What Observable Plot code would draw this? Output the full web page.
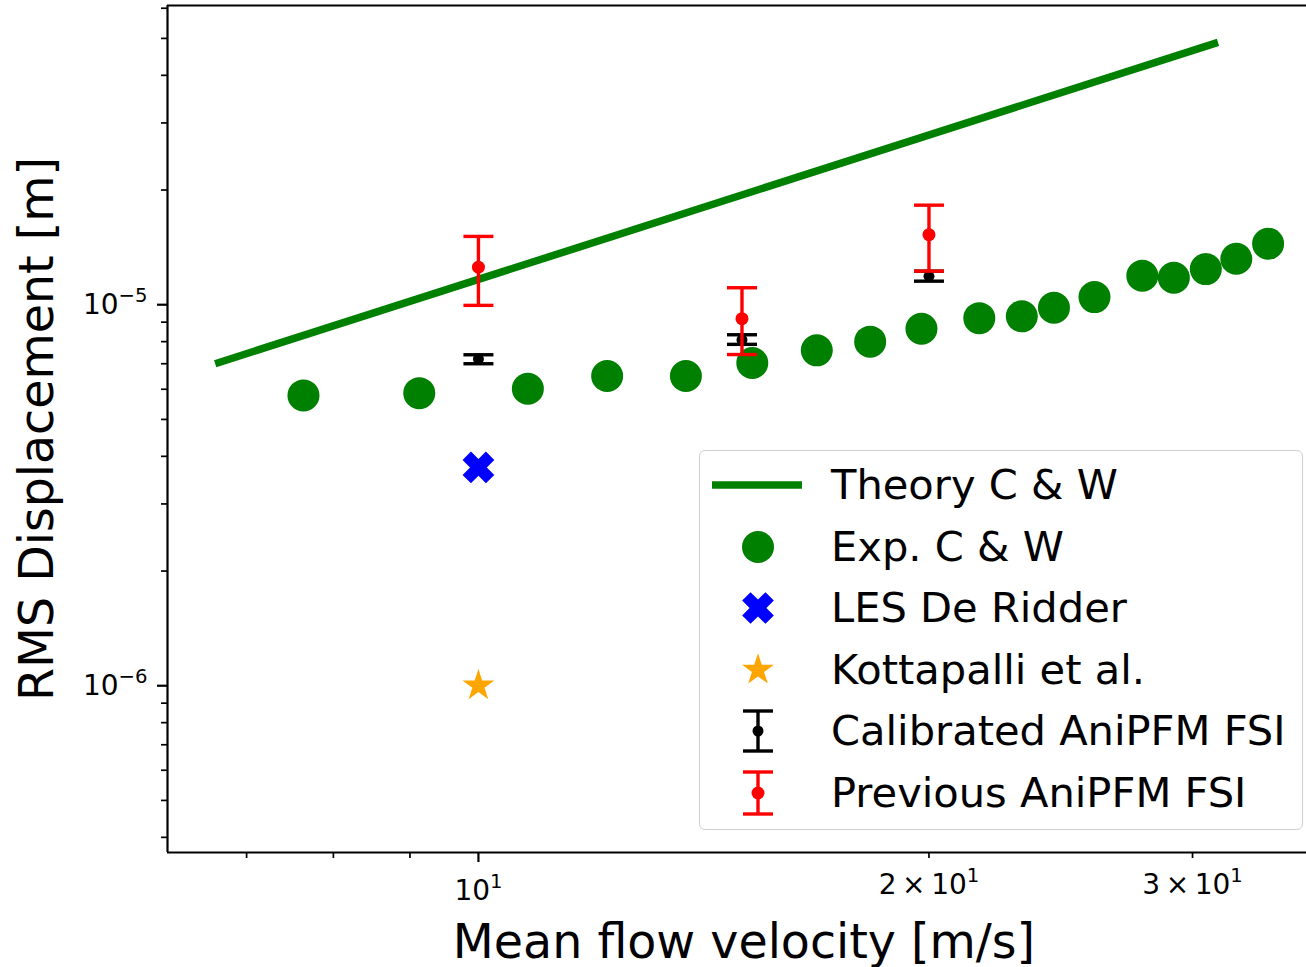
<!DOCTYPE html>
<html><head><meta charset="utf-8">
<script src="https://cdn.jsdelivr.net/npm/d3@7"></script>
<script src="https://cdn.jsdelivr.net/npm/@observablehq/plot@0.6"></script>
<style>
html,body{margin:0;padding:0;overflow:hidden;background:#fff;width:1306px;height:967px}
#wrap{position:relative;width:1306px;height:967px;overflow:hidden}
#wrap > svg{position:absolute;left:0;top:0}
#legend{position:absolute;left:699px;top:450px;width:604px;height:380px;box-sizing:border-box;border:1.6px solid #cfcfcf;border-radius:6px;background:rgba(255,255,255,0.85);font-family:"DejaVu Sans";font-size:41.6px;color:#000}
.row{position:absolute;left:0;height:62px;display:flex;align-items:center}
.row svg{width:116px;height:62px;flex:none}
.row span{margin-left:15px;white-space:nowrap;line-height:62px}
</style></head><body><div id="wrap"></div>
<script>
// ---- data ----
const theoryVelocity = [6.67, 31.2];
const theoryDisp = [7.0e-6, 4.88e-5];

const expVelocity = [7.64, 9.13, 10.79, 12.19, 13.76, 15.24, 16.83, 18.27, 19.77, 21.61, 23.07, 24.24, 25.80, 27.77, 29.15, 30.62, 32.09, 33.70];
const expDisp = [5.78e-6, 5.86e-6, 6.02e-6, 6.50e-6, 6.50e-6, 7.03e-6, 7.59e-6, 8.00e-6, 8.65e-6, 9.22e-6, 9.32e-6, 9.82e-6, 1.047e-5, 1.191e-5, 1.177e-5, 1.240e-5, 1.320e-5, 1.446e-5];

const lesVelocity = [10];
const lesDisp = [3.74e-6];

const kottVelocity = [10];
const kottDisp = [1.0e-6];

const calVelocity = [10, 15, 20];
const calDisp = [7.20e-6, 8.09e-6, 1.187e-5];
const calLow = [7.00e-6, 7.87e-6, 1.153e-5];
const calHigh = [7.39e-6, 8.34e-6, 1.225e-5];

const prevVelocity = [10, 15, 20];
const prevDisp = [1.255e-5, 9.19e-6, 1.527e-5];
const prevLow = [9.96e-6, 7.40e-6, 1.225e-5];
const prevHigh = [1.511e-5, 1.108e-5, 1.825e-5];

const legendLabels = ["Theory C & W", "Exp. C & W", "LES De Ridder", "Kottapalli et al.", "Calibrated AniPFM FSI", "Previous AniPFM FSI"];

const xLabel = "Mean flow velocity [m/s]";
const yLabel = "RMS Displacement [m]";
const xDomain = [6.198, 35.75];
const yDomain = [3.65e-7, 6.10e-5];
const xMajorTicks = [10];
const xMajorLabels = ["10^1"];
const xMinorTicks = [7, 8, 9, 20, 30];
const xMinorLabels = ["", "", "", "2\u2009\u00d7\u200910^1", "3\u2009\u00d7\u200910^1"];
const yMajorTicks = [1e-6, 1e-5];
const yMajorLabels = ["10^\u22126", "10^\u22125"];
const yMinorTicks = [4e-7, 5e-7, 6e-7, 7e-7, 8e-7, 9e-7, 2e-6, 3e-6, 4e-6, 5e-6, 6e-6, 7e-6, 8e-6, 9e-6, 2e-5, 3e-5, 4e-5, 5e-5, 6e-5];

// ---- tables ----
const theory = theoryVelocity.map((v, i) => ({v, d: theoryDisp[i]}));
const exp = expVelocity.map((v, i) => ({v, d: expDisp[i]}));
const les = lesVelocity.map((v, i) => ({v, d: lesDisp[i]}));
const kott = kottVelocity.map((v, i) => ({v, d: kottDisp[i]}));
const cal = calVelocity.map((v, i) => ({v, d: calDisp[i], lo: calLow[i], hi: calHigh[i]}));
const prev = prevVelocity.map((v, i) => ({v, d: prevDisp[i], lo: prevLow[i], hi: prevHigh[i]}));

// ---- symbols ----
const xFilled = {draw(ctx, size) {
  const L = Math.sqrt(size / Math.PI), w = 0.36 * L, c = Math.SQRT1_2;
  const pts = [[w,L],[w,w],[L,w],[L,-w],[w,-w],[w,-L],[-w,-L],[-w,-w],[-L,-w],[-L,w],[-w,w],[-w,L]]
    .map(([x, y]) => [(x - y) * c, (x + y) * c]);
  ctx.moveTo(pts[0][0], pts[0][1]);
  for (let i = 1; i < pts.length; i++) ctx.lineTo(pts[i][0], pts[i][1]);
  ctx.closePath();
}};
const capLine = {draw(ctx, size) {
  const R = Math.sqrt(size / Math.PI);
  ctx.moveTo(-R, 0); ctx.lineTo(R, 0);
}};

const GREEN = "#008000", RED = "#ff0000", BLUE = "#0000ff", ORANGE = "#ffa500";
const ebW = 3.4, capR = 15, starR = 10;

function errorbars(data, color, dotR) {
  return [
    Plot.ruleX(data, {x: "v", y1: "lo", y2: "hi", stroke: color, strokeWidth: ebW}),
    Plot.dot(data, {x: "v", y: "lo", symbol: capLine, r: capR, stroke: color, strokeWidth: ebW, fill: "none"}),
    Plot.dot(data, {x: "v", y: "hi", symbol: capLine, r: capR, stroke: color, strokeWidth: ebW, fill: "none"}),
    Plot.dot(data, {x: "v", y: "d", r: dotR, fill: color, stroke: "none"})
  ];
}

const tickFont = 28;
const chart = Plot.plot({
  width: 1306, height: 967,
  marginLeft: 167, marginRight: 0, marginTop: 5, marginBottom: 115,
  style: {fontFamily: "DejaVu Sans", color: "black", background: "white", overflow: "visible"},
  x: {type: "log", domain: xDomain},
  y: {type: "log", domain: yDomain},
  marks: [
    Plot.axisX(xMajorTicks, {tickSize: 10, tickPadding: 18, strokeWidth: 2.2, fontSize: tickFont, tickFormat: d => xMajorLabels[xMajorTicks.indexOf(d)] || "", label: null}),
    Plot.axisX(xMinorTicks, {tickSize: 6, tickPadding: 16, strokeWidth: 1.7, fontSize: tickFont, tickFormat: d => xMinorLabels[xMinorTicks.indexOf(d)] || "", label: null}),
    Plot.axisY(yMajorTicks, {tickSize: 10, tickPadding: 10, strokeWidth: 2.2, fontSize: tickFont, tickFormat: d => yMajorLabels[yMajorTicks.indexOf(d)] || "", label: null}),
    Plot.axisY(yMinorTicks, {tickSize: 6, strokeWidth: 1.7, tickFormat: () => "", label: null}),
    Plot.text([xLabel], {text: d => d, frameAnchor: "bottom", textAnchor: "middle", dx: 7, dy: 105, fontSize: 47.5}),
    Plot.text([yLabel], {text: d => d, frameAnchor: "left", textAnchor: "middle", rotate: -90, dx: -130, fontSize: 47.5}),
    Plot.line(theory, {x: "v", y: "d", stroke: GREEN, strokeWidth: 7.5, strokeLinecap: "butt"}),
    Plot.dot(exp, {x: "v", y: "d", r: 16, fill: GREEN, stroke: "none"}),
    Plot.dot(les, {x: "v", y: "d", r: 16.5, symbol: xFilled, fill: BLUE, stroke: "none"}),
    Plot.dot(kott, {x: "v", y: "d", r: starR, symbol: "star", fill: ORANGE, stroke: "none"}),
    ...errorbars(cal, "black", 5.5),
    ...errorbars(prev, RED, 6.5),
    // spines (left, top, bottom; the right spine lies outside the picture)
    Plot.ruleX([xDomain[0]], {stroke: "black", strokeWidth: 2.2}),
    Plot.ruleY([yDomain[1], yDomain[0]], {stroke: "black", strokeWidth: 2.2})
  ]
});

// superscripts like matplotlib mathtext
chart.querySelectorAll("text").forEach(t => {
  const s = t.textContent;
  const m = s.match(/^(.*)\^(.+)$/);
  if (!m) return;
  t.textContent = "";
  t.appendChild(document.createTextNode(m[1]));
  const sup = document.createElementNS("http://www.w3.org/2000/svg", "tspan");
  sup.setAttribute("font-size", "70%");
  sup.setAttribute("dy", "-0.62em");
  sup.textContent = m[2];
  t.appendChild(sup);
});

const wrap = document.getElementById("wrap");
wrap.appendChild(chart);

// ---- legend ----
const legend = document.createElement("div");
legend.id = "legend";
wrap.appendChild(legend);
function symPath(s, r) { const pp = d3.path(); s.draw(pp, Math.PI * r * r); return pp.toString(); }
function handleSVG(i) {
  const cx = 58, cy = 31;
  switch (i) {
    case 0: return `<line x1="12" x2="102" y1="${cy}" y2="${cy}" stroke="${GREEN}" stroke-width="7.5"/>`;
    case 1: return `<circle cx="${cx}" cy="${cy}" r="16" fill="${GREEN}"/>`;
    case 2: return `<path transform="translate(${cx},${cy})" d="${symPath(xFilled, 16.5)}" fill="${BLUE}"/>`;
    case 3: return `<path transform="translate(${cx},${cy})" d="${d3.symbol(d3.symbolStar, Math.PI * starR * starR)()}" fill="${ORANGE}"/>`;
    case 4:
    case 5: {
      const c = i === 4 ? "black" : RED, h = i === 4 ? 20 : 21, r = i === 4 ? 5.5 : 6.5;
      return `<g stroke="${c}" stroke-width="${ebW}"><line x1="${cx}" x2="${cx}" y1="${cy-h}" y2="${cy+h}"/>` +
        `<line x1="${cx-capR}" x2="${cx+capR}" y1="${cy-h}" y2="${cy-h}"/><line x1="${cx-capR}" x2="${cx+capR}" y1="${cy+h}" y2="${cy+h}"/></g>` +
        `<circle cx="${cx}" cy="${cy}" r="${r}" fill="${c}"/>`;
    }
  }
}
legendLabels.forEach((lab, i) => {
  const row = document.createElement("div");
  row.className = "row";
  row.style.top = (34 + i * 61.6 - 31) + "px";
  row.innerHTML = `<svg viewBox="0 0 116 62">${handleSVG(i)}</svg><span></span>`;
  row.querySelector("span").textContent = lab;
  legend.appendChild(row);
});
</script>
</body></html>
